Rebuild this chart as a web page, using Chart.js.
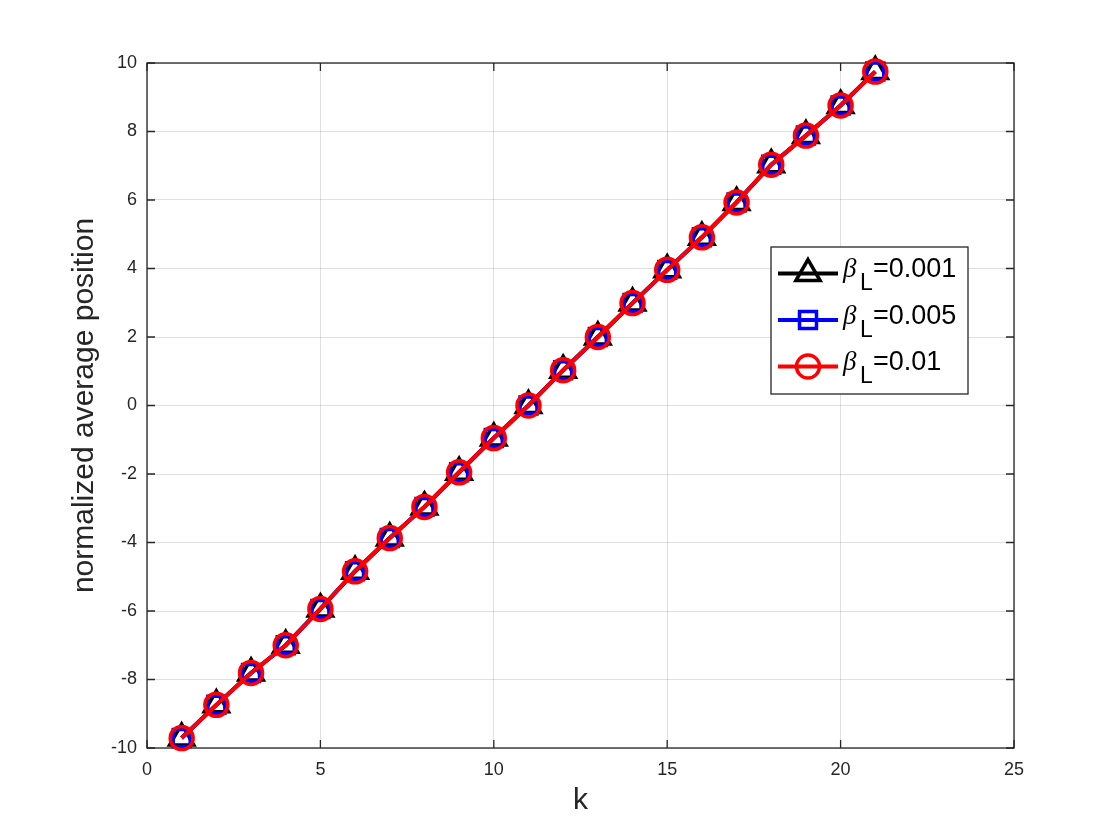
<!DOCTYPE html>
<html>
<head>
<meta charset="utf-8">
<script src="https://cdn.jsdelivr.net/npm/chart.js@4/dist/chart.umd.min.js"></script>
<style>
  html, body { margin: 0; padding: 0; background: #ffffff; }
  #wrap { width: 1120px; height: 840px; }
</style>
</head>
<body>
<div id="wrap"><canvas id="c" width="1120" height="840"></canvas></div>
<script>
// ---- data ----
const kValues = [1, 2, 3, 4, 5, 6, 7, 8, 9, 10, 11, 12, 13, 14, 15, 16, 17, 18, 19, 20, 21];
const posBeta0001 = [-9.71, -8.74, -7.81, -7.00, -5.94, -4.84, -3.87, -2.96, -1.95, -0.95, 0.00, 1.03, 2.00, 2.99, 3.96, 4.91, 5.93, 7.03, 7.88, 8.76, 9.75];
const posBeta0005 = [-9.71, -8.74, -7.81, -7.00, -5.94, -4.84, -3.87, -2.96, -1.95, -0.95, 0.00, 1.03, 2.00, 2.99, 3.96, 4.91, 5.93, 7.03, 7.88, 8.76, 9.75];
const posBeta001  = [-9.71, -8.74, -7.81, -7.00, -5.94, -4.84, -3.87, -2.96, -1.95, -0.95, 0.00, 1.03, 2.00, 2.99, 3.96, 4.91, 5.93, 7.03, 7.88, 8.76, 9.75];
const seriesValues = ['0.001', '0.005', '0.01'];
const xTicks = [0, 5, 10, 15, 20, 25];
const yTicks = [-10, -8, -6, -4, -2, 0, 2, 4, 6, 8, 10];
const xLabel = 'k';
const yLabel = 'normalized average position';

const toXY = (vals) => kValues.map((k, i) => ({ x: k, y: vals[i] }));
const FONT = '"Liberation Sans", Arial, Helvetica, sans-serif';
const AXIS_COLOR = '#262626';

const seriesStyle = [
  { color: '#000000', style: 'triangle', radius: 14 },
  { color: '#0000ff', style: 'rect', radius: 12 },
  { color: '#ff0000', style: 'circle', radius: 11.5 }
];

function makeDataset(vals, idx, order) {
  const s = seriesStyle[idx];
  return {
    label: 'βL=' + seriesValues[idx],
    data: toXY(vals),
    borderColor: s.color,
    backgroundColor: 'rgba(0,0,0,0)',
    borderWidth: 4,
    pointStyle: s.style,
    pointRadius: s.radius,
    pointHoverRadius: s.radius,
    pointBorderWidth: 3.5,
    pointBorderColor: s.color,
    pointBackgroundColor: 'rgba(0,0,0,0)',
    tension: 0,
    clip: false,
    order: order
  };
}

// box + inward ticks (MATLAB style)
const boxPlugin = {
  id: 'boxPlugin',
  beforeDatasetsDraw(chart) {
    const { ctx, chartArea: a, scales } = chart;
    ctx.save();
    ctx.strokeStyle = AXIS_COLOR;
    ctx.lineWidth = 1.3;
    ctx.strokeRect(a.left, a.top, a.right - a.left, a.bottom - a.top);
    ctx.beginPath();
    const tl = 8;
    yTicks.forEach(v => {
      const y = scales.y.getPixelForValue(v);
      ctx.moveTo(a.left, y); ctx.lineTo(a.left + tl, y);
      ctx.moveTo(a.right, y); ctx.lineTo(a.right - tl, y);
    });
    xTicks.forEach(v => {
      const x = scales.x.getPixelForValue(v);
      ctx.moveTo(x, a.bottom); ctx.lineTo(x, a.bottom - tl);
      ctx.moveTo(x, a.top); ctx.lineTo(x, a.top + tl);
    });
    ctx.stroke();
    ctx.restore();
  }
};

// legend with subscripts (MATLAB style, inside axes)
const legendPlugin = {
  id: 'matlabLegend',
  afterDraw(chart) {
    const { ctx } = chart;
    const bx = 771, by = 247, bw = 197, bh = 147;
    ctx.save();
    ctx.fillStyle = '#ffffff';
    ctx.fillRect(bx, by, bw, bh);
    ctx.strokeStyle = AXIS_COLOR;
    ctx.lineWidth = 1.3;
    ctx.strokeRect(bx, by, bw, bh);
    const rows = [273.5, 320, 366.5];
    rows.forEach((ry, i) => {
      const s = seriesStyle[i];
      ctx.strokeStyle = s.color;
      ctx.lineWidth = 4;
      ctx.beginPath();
      ctx.moveTo(778, ry); ctx.lineTo(838, ry);
      ctx.stroke();
      ctx.lineWidth = 3.5;
      ctx.fillStyle = 'rgba(0,0,0,0)';
      Chart.helpers.drawPoint(ctx, { pointStyle: s.style, radius: s.radius, rotation: 0, borderWidth: 3.5 }, 808, ry);
      ctx.fillStyle = '#000000';
      ctx.textBaseline = 'alphabetic';
      ctx.textAlign = 'left';
      ctx.font = 'italic 27px "Liberation Serif", "Times New Roman", serif';
      ctx.fillText('β', 843, ry + 3.5);
      ctx.font = '23px ' + FONT;
      ctx.fillText('L', 860, ry + 16.5);
      ctx.font = '27px ' + FONT;
      ctx.fillText('=' + seriesValues[i], 873, ry + 3.5);
    });
    ctx.restore();
  }
};

new Chart(document.getElementById('c'), {
  type: 'line',
  data: {
    datasets: [
      makeDataset(posBeta0001, 0, 2),
      makeDataset(posBeta0005, 1, 1),
      makeDataset(posBeta001, 2, 0)
    ]
  },
  options: {
    responsive: false,
    animation: false,
    devicePixelRatio: 1,
    layout: { padding: { left: 0, top: 63, right: 106, bottom: 0 } },
    plugins: {
      legend: { display: false },
      tooltip: { enabled: false }
    },
    scales: {
      x: {
        type: 'linear',
        min: 0, max: 25,
        afterBuildTicks: (scale) => { scale.ticks = xTicks.map(v => ({ value: v })); },
        afterFit: (scale) => { scale.height = 92; },
        grid: { color: 'rgba(38,38,38,0.15)', lineWidth: 1, drawTicks: false },
        border: { display: false },
        ticks: { padding: 11, color: AXIS_COLOR, font: { family: FONT, size: 18 }, maxRotation: 0 },
        title: { display: true, text: xLabel, color: AXIS_COLOR, font: { family: FONT, size: 30 }, padding: { top: 0, bottom: 21 } }
      },
      y: {
        type: 'linear',
        min: -10, max: 10,
        afterBuildTicks: (scale) => { scale.ticks = yTicks.map(v => ({ value: v })); },
        afterFit: (scale) => { scale.width = 147; },
        grid: { color: 'rgba(38,38,38,0.15)', lineWidth: 1, drawTicks: false },
        border: { display: false },
        ticks: { padding: 10, color: AXIS_COLOR, font: { family: FONT, size: 18 } },
        title: { display: true, text: yLabel, color: AXIS_COLOR, font: { family: FONT, size: 30 }, padding: { top: 67, bottom: 0 } }
      }
    }
  },
  plugins: [boxPlugin, legendPlugin]
});
</script>
</body>
</html>
